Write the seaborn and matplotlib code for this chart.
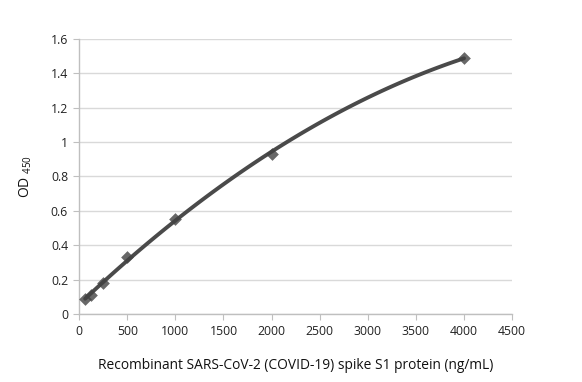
import numpy as np
import pandas as pd
import matplotlib
matplotlib.use('Agg')
import matplotlib.pyplot as plt
import seaborn as sns

# data
conc = [62.5, 125, 250, 500, 1000, 2000, 4000]
od450 = [0.087, 0.11, 0.18, 0.33, 0.555, 0.93, 1.49]
x_ticks = [0, 500, 1000, 1500, 2000, 2500, 3000, 3500, 4000, 4500]
y_ticks = [0, 0.2, 0.4, 0.6, 0.8, 1.0, 1.2, 1.4, 1.6]
y_labels = ['0', '0.2', '0.4', '0.6', '0.8', '1', '1.2', '1.4', '1.6']

df = pd.DataFrame({'conc': conc, 'od': od450})

sns.set_style('white')
plt.rcParams['font.family'] = ['Open Sans', 'DejaVu Sans']

fig = plt.figure(figsize=(5.82, 3.82), dpi=100)
ax = fig.add_axes([0.136, 0.178, 0.744, 0.72])

# polynomial trendline + diamond markers
sns.regplot(data=df, x='conc', y='od', order=2, ci=None, ax=ax, marker='D',
            scatter_kws={'s': 42, 'color': '#424242',
                         'zorder': 3, 'linewidths': 0},
            line_kws={'color': '#4a4a4a', 'lw': 2.8, 'zorder': 2})

ax.set_xlim(0, 4500)
ax.set_ylim(0, 1.6)
ax.set_xticks(x_ticks)
ax.set_yticks(y_ticks)
ax.set_yticklabels(y_labels)
ax.yaxis.grid(True, color='#d9d9d9', lw=1)
ax.set_axisbelow(True)

for s in ['top', 'right']:
    ax.spines[s].set_visible(False)
for s in ['left', 'bottom']:
    ax.spines[s].set_color('#bfbfbf')
    ax.spines[s].set_linewidth(1)

ax.tick_params(axis='x', bottom=True, length=4, color='#bfbfbf',
               labelsize=8.8, labelcolor='#222222', pad=4)
ax.tick_params(axis='y', left=True, length=4, color='#bfbfbf',
               labelsize=8.8, labelcolor='#222222', pad=4)

ax.set_xlabel('Recombinant SARS-CoV-2 (COVID-19) spike S1 protein (ng/mL)',
              fontsize=9.9, color='#111111', labelpad=14)
ax.set_ylabel(r'OD $_{\mathregular{450}}$', fontsize=10, color='#111111',
              labelpad=12)

fig.savefig('out.png', dpi=100)
